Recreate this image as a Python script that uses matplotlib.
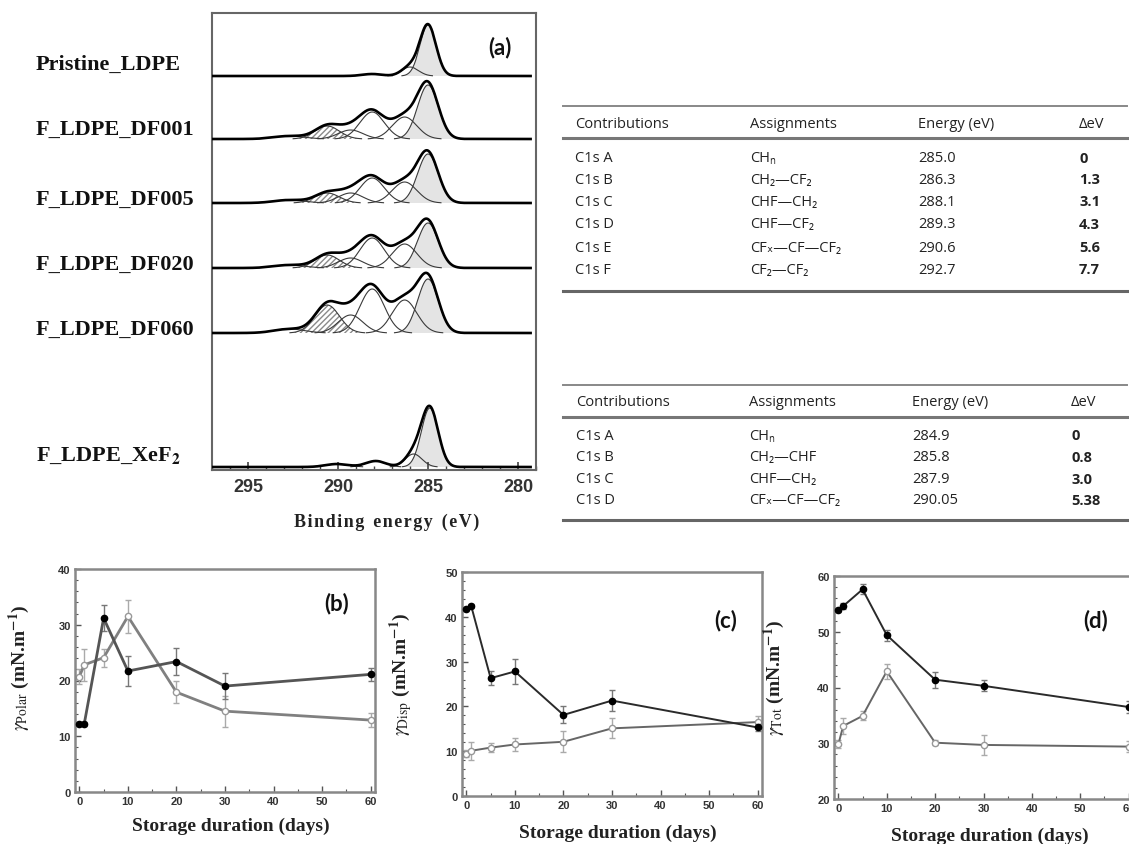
import numpy as np
import matplotlib
matplotlib.use('Agg')
import matplotlib.pyplot as plt
from matplotlib.ticker import MultipleLocator
from matplotlib.lines import Line2D

plt.rcParams['mathtext.fontset'] = 'stix'

W, H = 1129, 845

# ---------------- Panel (a) data : XPS C1s spectra (component fits) ----------------
spectra_labels = ['Pristine_LDPE', 'F_LDPE_DF001', 'F_LDPE_DF005', 'F_LDPE_DF020',
                  'F_LDPE_DF060', r'F_LDPE_XeF$_\mathbf{2}$']
label_y_px = [65, 130, 200, 265, 330, 456]
spectra_offsets = [394, 331, 267, 202, 137, 3]

df_centres = [285.0, 286.3, 288.1, 289.3, 290.6, 292.7]
df_fwhm = [1.35, 1.6, 1.6, 1.6, 1.6, 2.0]
comp_centres = [
    [285.0, 286.0, 288.1],
    df_centres, df_centres, df_centres, df_centres,
    [284.9, 285.8, 287.9, 290.05],
]
comp_amps = [
    [51, 9, 2],
    [54, 22, 27, 9, 13, 3],
    [49, 21, 25, 10, 10, 3],
    [45, 24, 30, 10, 13, 3],
    [54, 33, 44, 18, 28, 4],
    [59, 13, 6, 3],
]
comp_fwhm = [
    [1.05, 1.1, 1.3],
    df_fwhm, df_fwhm, df_fwhm, df_fwhm,
    [1.1, 1.1, 1.3, 1.5],
]
hatched_comp = [None, 4, 4, 4, 4, None]

# ---------------- Tables ----------------
contrib1 = ['C1s A', 'C1s B', 'C1s C', 'C1s D', 'C1s E', 'C1s F']
assign1 = ['CHₙ', 'CH₂—CF₂', 'CHF—CH₂', 'CHF—CF₂', 'CFₓ—CF—CF₂', 'CF₂—CF₂']
energy1 = ['285.0', '286.3', '288.1', '289.3', '290.6', '292.7']
delta1 = ['0', '1.3', '3.1', '4.3', '5.6', '7.7']

contrib2 = ['C1s A', 'C1s B', 'C1s C', 'C1s D']
assign2 = ['CHₙ', 'CH₂—CHF', 'CHF—CH₂', 'CFₓ—CF—CF₂']
energy2 = ['284.9', '285.8', '287.9', '290.05']
delta2 = ['0', '0.8', '3.0', '5.38']
headers = ['Contributions', 'Assignments', 'Energy (eV)', 'ΔeV']

# ---------------- Panels (b)-(d) data ----------------
days = [0, 1, 5, 10, 20, 30, 60]
polar_f = [12.2, 12.2, 31.2, 21.7, 23.4, 19.0, 21.1]
polar_f_err = [0.4, 0.4, 2.4, 2.7, 2.5, 2.3, 1.2]
polar_o = [20.7, 22.8, 24.1, 31.5, 17.9, 14.5, 12.9]
polar_o_err = [1.3, 2.8, 1.6, 3.0, 2.0, 2.8, 1.3]
disp_f = [41.8, 42.4, 26.3, 27.8, 18.1, 21.3, 15.3]
disp_f_err = [0.4, 0.4, 1.5, 2.8, 1.9, 2.3, 0.8]
disp_o = [9.4, 10.1, 10.8, 11.5, 12.1, 15.1, 16.5]
disp_o_err = [0.8, 2.0, 1.0, 1.5, 2.3, 2.2, 1.3]
tot_f = [53.9, 54.6, 57.6, 49.4, 41.4, 40.3, 36.5]
tot_f_err = [0.4, 0.5, 0.9, 1.0, 1.4, 1.0, 1.0]
tot_o = [29.8, 33.1, 34.9, 42.9, 30.1, 29.7, 29.4]
tot_o_err = [0.7, 1.4, 0.8, 1.3, 0.5, 1.8, 1.0]


def fr(x0, y0, x1, y1):
    return [x0 / W, 1 - y1 / H, (x1 - x0) / W, (y1 - y0) / H]


fig = plt.figure(figsize=(W / 100, H / 100), dpi=100)

# ---------------- Panel (a) ----------------
axa = fig.add_axes(fr(212, 14, 536, 471))
E = np.linspace(279.3, 297.0, 900)
for i in range(len(spectra_labels)):
    base = spectra_offsets[i]
    comps = []
    for j, (c, a, fw) in enumerate(zip(comp_centres[i], comp_amps[i], comp_fwhm[i])):
        s = fw / 2.3548
        comps.append(a * np.exp(-(E - c) ** 2 / (2 * s * s)))
    env = np.sum(comps, axis=0)
    for j, comp in enumerate(comps):
        vis = comp > 0.25
        if j == 0:
            axa.fill_between(E, base, base + comp, where=vis, facecolor='#e4e4e4',
                             edgecolor='none', zorder=1)
        if hatched_comp[i] == j:
            axa.fill_between(E, base, base + comp, where=vis, facecolor='white',
                             edgecolor='#8a8a8a', hatch='//////', lw=0, zorder=1)
        y = np.where(vis, base + comp, np.nan)
        axa.plot(E, y, color='#3a3a3a', lw=0.8, zorder=2)
    axa.plot(E, base + env, color='black', lw=1.9, zorder=3)

axa.set_xlim(297, 279)
axa.set_ylim(0, 457)
axa.set_yticks([])
axa.xaxis.set_major_locator(MultipleLocator(5))
axa.xaxis.set_minor_locator(MultipleLocator(1))
axa.tick_params(axis='x', which='major', direction='in', length=6, width=1.2,
                color='#444', labelsize=13, labelcolor='#333', pad=6)
axa.tick_params(axis='x', which='minor', direction='in', length=3, width=1, color='#444')
for lab in axa.get_xticklabels():
    lab.set_fontfamily('Liberation Sans')
    lab.set_fontweight('bold')
for sp in axa.spines.values():
    sp.set_color('#666')
    sp.set_linewidth(1.5)
axa.set_xlabel('B i n d i n g   e n e r g y   ( e V )'.replace('   ', '\u2002').replace(' ', '\u200a'),
               fontfamily='Liberation Serif', fontweight='bold', fontsize=13, color='#222')
axa.xaxis.set_label_coords(0.54, -0.094)
fig.text(500 / W, 1 - 48 / H, '(a)', ha='center', va='center', fontfamily='Lato',
         fontweight='bold', fontsize=16, color='#111')

for lab, ly in zip(spectra_labels, label_y_px):
    fig.text(36 / W, 1 - ly / H, lab, ha='left', va='center', fontfamily='Liberation Serif',
             fontweight='bold', fontsize=16, color='#111')

# ---------------- Tables ----------------
fam = ['Open Sans', 'DejaVu Sans']


def hline(y, x0=563, x1=1127, lw=1.6, color='#777'):
    fig.add_artist(Line2D([x0 / W, x1 / W], [1 - y / H, 1 - y / H], lw=lw, color=color,
                          transform=fig.transFigure))


def table(y_top, y_head, y_hline, rows_y, y_bot, contrib, assign, energy, delta, col_x):
    hline(y_top, lw=1.4, color='#888')
    hline(y_hline, lw=2.2, color='#777')
    hline(y_bot, lw=2.2, color='#666')
    for h, x in zip(headers, col_x):
        fig.text(x / W, 1 - y_head / H, h, ha='left', va='center', family=fam,
                 fontsize=10.5, color='#222')
    for k, y in enumerate(rows_y):
        vals = [contrib[k], assign[k], energy[k], delta[k]]
        for m, (v, x) in enumerate(zip(vals, col_x)):
            fig.text(x / W, 1 - y / H, v, ha='left', va='center', family=fam,
                     fontsize=10.5, color='#222', fontweight='bold' if m == 3 else 'normal')


table(107, 125, 139, [159, 180, 202, 225, 248, 270], 292,
      contrib1, assign1, energy1, delta1, [575, 750, 918, 1079])
table(386, 403, 418, [436, 458, 480, 501], 521,
      contrib2, assign2, energy2, delta2, [576, 749, 912, 1071])

# ---------------- Panels (b)-(d) ----------------
panels = [
    (fr(75, 570, 375, 793), (0, 40), polar_f, polar_f_err, polar_o, polar_o_err,
     r'$\gamma_{\mathrm{Polar}}$', '(b)', (0.873, 0.85), (-0.143, 0.56), -0.112, 2.0, '#555', '#808080'),
    (fr(462, 573, 762, 797), (0, 50), disp_f, disp_f_err, disp_o, disp_o_err,
     r'$\gamma_{\mathrm{Disp}}$', '(c)', (0.88, 0.79), (-0.157, 0.55), -0.125, 1.4, '#2a2a2a', '#666'),
    (fr(834, 577, 1133, 800), (20, 60), tot_f, tot_f_err, tot_o, tot_o_err,
     r'$\gamma_{\mathrm{Tot}}$', '(d)', (0.876, 0.805), (-0.158, 0.55), -0.126, 1.4, '#2a2a2a', '#666'),
]

for (rect, ylim, yf, yfe, yo, yoe, gname, letter, lpos, ylpos, xly, lw, cf, co) in panels:
    ax = fig.add_axes(rect)
    ax.errorbar(days, yo, yerr=yoe, color=co, lw=lw, marker='o', ms=4.5,
                mfc='white', mec='#999', mew=1.0, ecolor='#aaa', elinewidth=1.0,
                capsize=2.5, zorder=2)
    ax.errorbar(days, yf, yerr=yfe, color=cf, lw=lw, marker='o', ms=4.5,
                mfc='black', mec='black', ecolor='#777', elinewidth=1.0,
                capsize=2.5, zorder=3)
    ax.set_xlim(-0.9, 60.9)
    ax.set_ylim(*ylim)
    ax.xaxis.set_major_locator(MultipleLocator(10))
    ax.xaxis.set_minor_locator(MultipleLocator(5))
    ax.yaxis.set_major_locator(MultipleLocator(10))
    ax.yaxis.set_minor_locator(MultipleLocator(2))
    ax.tick_params(which='major', direction='in', length=4, width=1, color='#555',
                   labelsize=8, labelcolor='#333', pad=3)
    ax.tick_params(which='minor', direction='in', length=2, width=0.8, color='#555')
    for lab in ax.get_xticklabels() + ax.get_yticklabels():
        lab.set_fontweight('bold')
        lab.set_fontfamily('Liberation Sans')
    for sp in ax.spines.values():
        sp.set_color('#888')
        sp.set_linewidth(1.8)
    ax.set_xlabel('Storage duration (days)', fontfamily='Liberation Serif',
                  fontweight='bold', fontsize=14, color='#222')
    ax.xaxis.set_label_coords(0.52, xly)
    ax.set_ylabel(gname + r' (mN.m$^{\mathbf{-1}}$)', fontfamily='Liberation Serif',
                  fontweight='bold', fontsize=14, color='#222')
    ax.yaxis.set_label_coords(*ylpos)
    ax.text(lpos[0], lpos[1], letter, transform=ax.transAxes, ha='center', va='center',
            fontfamily='Lato', fontweight='bold', fontsize=16, color='#111')

fig.savefig('out.png', dpi=100)
